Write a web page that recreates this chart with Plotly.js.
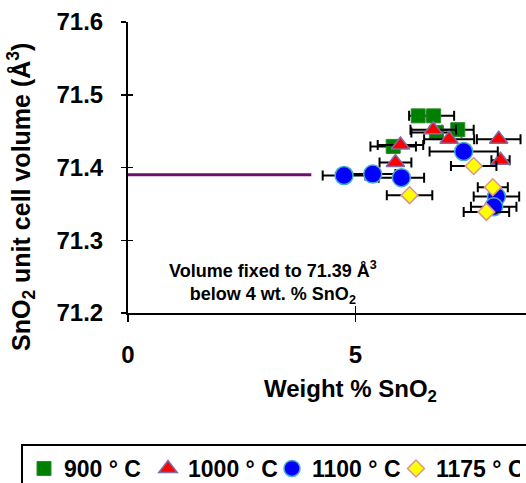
<!DOCTYPE html>
<html>
<head>
<meta charset="utf-8">
<script src="https://cdn.plot.ly/plotly-3.0.1.min.js"></script>
<style>html,body{margin:0;padding:0;background:#fff;overflow:hidden}#chart{width:526px;height:483px}</style>
</head>
<body>
<div id="chart"></div>
<script>
// Data
const seriesNames = ["900 ° C", "1000 ° C", "1100 ° C", "1175 ° C"];

const x900 = [6.38, 6.72, 7.25, 6.78, 5.83];
const y900 = [71.471, 71.471, 71.452, 71.448, 71.429];
const e900 = [0.2, 0.45, 0.35, 0.55, 0.5];

const x1000 = [6.71, 7.06, 8.15, 5.99, 5.88, 8.19];
const y1000 = [71.452, 71.439, 71.439, 71.431, 71.407, 71.410];
const e1000 = [0.5, 0.55, 0.48, 0.5, 0.35, 0.2];

const x1100 = [4.75, 5.38, 6.01, 7.38, 8.10, 8.04];
const y1100 = [71.389, 71.391, 71.386, 71.422, 71.360, 71.346];
const e1100 = [0.47, 0.5, 0.5, 0.75, 0.5, 0.5];

const x1175 = [6.19, 7.60, 8.02, 7.88];
const y1175 = [71.362, 71.402, 71.373, 71.339];
const e1175 = [0.5, 0.5, 0.33, 0.5];

const fixedX = [0, 4.03];
const fixedY = [71.39, 71.39];

const xTickVals = [0, 5, 10];
const yTickVals = [71.2, 71.3, 71.4, 71.5, 71.6];

const FONT = "Liberation Sans, Arial, Helvetica, sans-serif";

function errX(arr) {
  return {type: 'data', array: arr, visible: true, color: '#000', thickness: 2, width: 5};
}

const traces = [
  {x: x900, y: y900, name: seriesNames[0], type: 'scatter', mode: 'markers',
   error_x: errX(e900),
   marker: {symbol: 'square', size: 14, color: '#008000', line: {color: '#2a8a2a', width: 1}}},
  {x: x1000, y: y1000, name: seriesNames[1], type: 'scatter', mode: 'markers',
   error_x: errX(e1000),
   marker: {symbol: 'triangle-up', size: 16, color: '#FF0000', line: {color: '#7F6DA8', width: 1.5}}},
  {x: x1100, y: y1100, name: seriesNames[2], type: 'scatter', mode: 'markers',
   error_x: errX(e1100),
   marker: {symbol: 'circle', size: 18, color: '#0000FF', line: {color: '#4BACC6', width: 1.5}}},
  {x: x1175, y: y1175, name: seriesNames[3], type: 'scatter', mode: 'markers',
   error_x: errX(e1175),
   marker: {symbol: 'diamond', size: 13, color: '#FFFF00', line: {color: '#D99594', width: 1.5}}},
  {x: fixedX, y: fixedY, xaxis: 'x2', yaxis: 'y2', type: 'scatter', mode: 'lines',
   showlegend: false, hoverinfo: 'skip',
   line: {color: '#6B0F6B', width: 3}}
];

const layout = {
  width: 526, height: 483,
  margin: {l: 128, r: 0, t: 22, b: 170, autoexpand: false},
  paper_bgcolor: '#fff', plot_bgcolor: '#fff',
  font: {family: FONT, color: '#000', size: 20, weight: 700},
  showlegend: true,
  xaxis: {
    range: [0, 8.75], tickvals: xTickVals, ticktext: xTickVals.map(String),
    showgrid: false, zeroline: false, showline: true, linecolor: '#000', linewidth: 2,
    ticks: 'outside', ticklen: 7, tickwidth: 1.5, tickcolor: '#000',
    tickfont: {family: FONT, size: 24, weight: 700, color: '#000'},
    ticklabelstandoff: 12
  },
  yaxis: {
    range: [71.2, 71.6], tickvals: yTickVals, tickformat: '.1f',
    showgrid: false, zeroline: false, showline: true, linecolor: '#000', linewidth: 2,
    ticks: 'outside', ticklen: 5, tickwidth: 1.5, tickcolor: '#000',
    tickfont: {family: FONT, size: 24, weight: 700, color: '#000'},
    ticklabelstandoff: 13
  },
  xaxis2: {overlaying: 'x', anchor: 'y2', range: [0, 8.75], tickvals: xTickVals,
    showticklabels: false, showgrid: false, zeroline: false, showline: false,
    ticks: 'inside', ticklen: 7, tickwidth: 1.5, tickcolor: '#000'},
  yaxis2: {overlaying: 'y', anchor: 'x2', side: 'left', range: [71.2, 71.6], tickvals: yTickVals,
    showticklabels: false, showgrid: false, zeroline: false, showline: false,
    ticks: 'inside', ticklen: 5, tickwidth: 1.5, tickcolor: '#000'},
  legend: {
    orientation: 'h', x: -0.2613, xanchor: 'left', y: -0.4605, yanchor: 'top',
    borderwidth: 0, bgcolor: 'rgba(0,0,0,0)',
    font: {family: FONT, size: 23, weight: 700, color: '#000'},
    entrywidth: 79, entrywidthmode: 'pixels', itemwidth: 30, traceorder: 'normal'
  },
  shapes: [
    {type: 'rect', xref: 'paper', yref: 'paper', x0: -0.2663, x1: 1.06, y0: -0.4536, y1: -0.64,
     line: {color: '#000', width: 2}, fillcolor: 'rgba(0,0,0,0)', layer: 'above'}
  ],
  annotations: [
    {xref: 'x', yref: 'y', x: 3.18, y: 71.242, showarrow: false,
     text: 'Volume fixed to 71.39 Å<sup>3</sup><br>below 4 wt. % SnO<sub>2</sub>',
     font: {family: FONT, size: 18, weight: 700, color: '#000'}, align: 'center'},
    {xref: 'paper', yref: 'paper', x: 0.558, y: -0.268, xanchor: 'center', yanchor: 'middle',
     showarrow: false, text: 'Weight % SnO<sub>2</sub>',
     font: {family: FONT, size: 24, weight: 700, color: '#000'}},
    {xref: 'paper', yref: 'paper', x: -0.2688, y: 0.3986, xanchor: 'center', yanchor: 'middle',
     showarrow: false, textangle: -90, text: 'SnO<sub>2</sub> unit cell volume (Å<sup>3</sup>)',
     font: {family: FONT, size: 25, weight: 700, color: '#000'}}
  ]
};

Plotly.newPlot('chart', traces, layout, {displayModeBar: false, staticPlot: true});
</script>
</body>
</html>
